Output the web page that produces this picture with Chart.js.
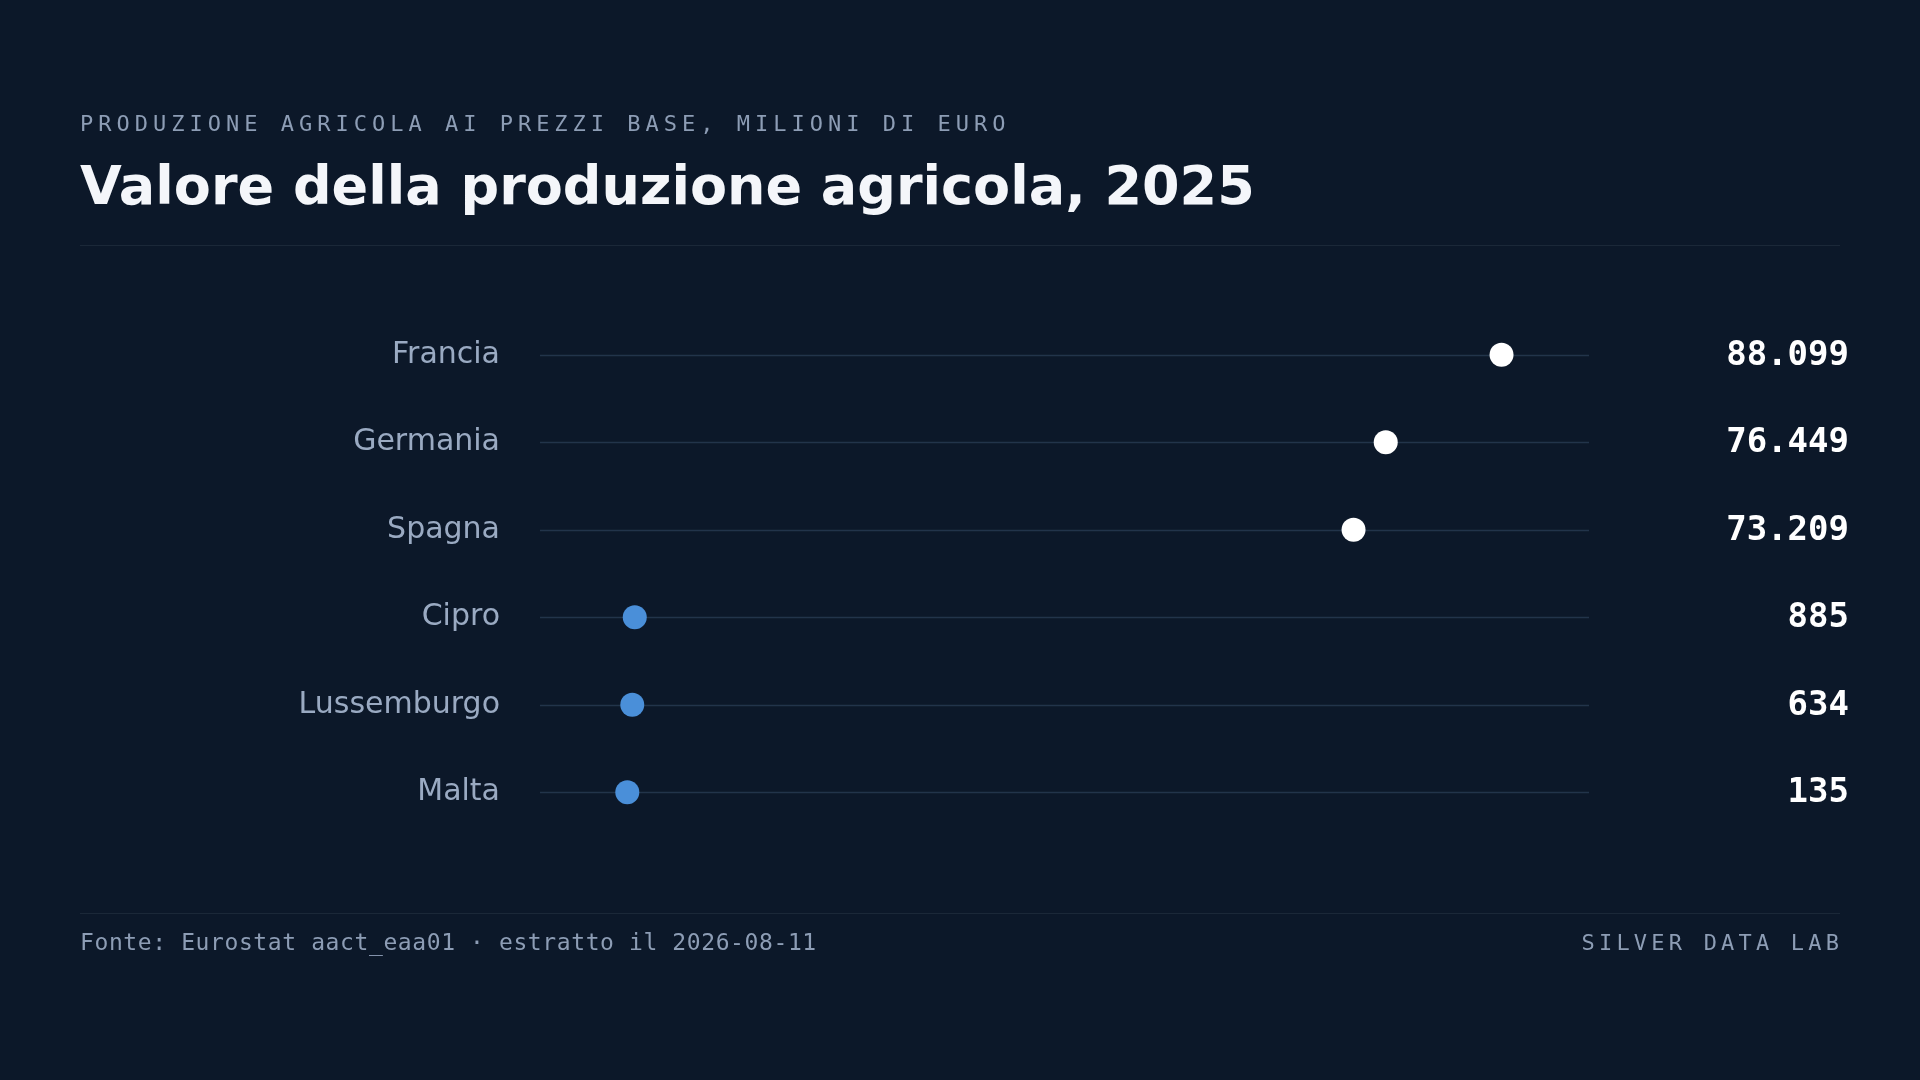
<!DOCTYPE html>
<html>
<head>
<meta charset="utf-8">
<script src="https://cdn.jsdelivr.net/npm/chart.js@4"></script>
<style>
  html, body { margin: 0; padding: 0; background: #0c1829; }
  #wrap { width: 1920px; height: 1080px; position: relative; }
</style>
</head>
<body>
<div id="wrap"><canvas id="dots" width="1920" height="1080"></canvas></div>
<script>
var countries = ['Francia', 'Germania', 'Spagna', 'Cipro', 'Lussemburgo', 'Malta'];
var values    = [88099, 76449, 73209, 885, 634, 135];
var valueText = ['88.099', '76.449', '73.209', '885', '634', '135'];
var dotColors = ['#ffffff', '#ffffff', '#ffffff', '#4a8fd9', '#4a8fd9', '#4a8fd9'];

var BG    = '#0c1829';
var MUTED = '#8d9db5';
var MONO  = '"DejaVu Sans Mono", monospace';
var SANS  = '"DejaVu Sans", sans-serif';

function spaced(c, text, x, y, spacing, alignRight) {
  if (alignRight) {
    var w = 0;
    for (var i = 0; i < text.length; i++) w += c.measureText(text[i]).width + spacing;
    x -= w - spacing;
  }
  for (var j = 0; j < text.length; j++) {
    c.fillText(text[j], x, y);
    x += c.measureText(text[j]).width + spacing;
  }
}

var decor = {
  id: 'decor',
  beforeDraw: function (chart) {
    var c = chart.ctx;
    c.save();
    c.fillStyle = BG;
    c.fillRect(0, 0, chart.width, chart.height);

    c.textBaseline = 'middle';
    c.textAlign = 'left';
    c.fillStyle = MUTED;
    c.font = '22px ' + MONO;
    spaced(c, 'PRODUZIONE AGRICOLA AI PREZZI BASE, MILIONI DI EURO', 80, 125, 5, false);

    c.fillStyle = '#f4f6fa';
    c.font = 'bold 54px ' + SANS;
    c.fillText('Valore della produzione agricola, 2025', 80, 190);

    c.strokeStyle = '#1b2838';
    c.lineWidth = 1;
    c.beginPath(); c.moveTo(80, 245.5); c.lineTo(1840, 245.5); c.stroke();
    c.beginPath(); c.moveTo(80, 913.5); c.lineTo(1840, 913.5); c.stroke();

    c.fillStyle = MUTED;
    c.font = '23px ' + MONO;
    spaced(c, 'Fonte: Eurostat aact_eaa01 · estratto il 2026-08-11', 80, 944, 0.6, false);
    c.font = '22px ' + MONO;
    spaced(c, 'SILVER DATA LAB', 1839, 944, 4.2, true);

    // tracks, labels and values
    var area = chart.chartArea;
    var ys = chart.scales.y;
    countries.forEach(function (name, i) {
      var y = Math.round(ys.getPixelForValue(i)) + 0.5;
      c.strokeStyle = '#22344a';
      c.lineWidth = 1.3;
      c.beginPath(); c.moveTo(area.left, y); c.lineTo(area.right, y); c.stroke();

      c.textAlign = 'right';
      c.fillStyle = '#9aaac2';
      c.font = '30px ' + SANS;
      c.fillText(name, 500, y);

      c.fillStyle = '#ffffff';
      c.font = 'bold 34px ' + MONO;
      c.fillText(valueText[i], 1849, y + 1);
    });
    c.restore();
  }
};

new Chart(document.getElementById('dots'), {
  type: 'scatter',
  plugins: [decor],
  data: {
    datasets: [{
      data: values.map(function (v, i) { return { x: v, y: i }; }),
      pointRadius: 12,
      pointHoverRadius: 12,
      pointBackgroundColor: dotColors,
      pointBorderWidth: 0
    }]
  },
  options: {
    responsive: false,
    animation: false,
    layout: { padding: { left: 540, right: 331, top: 311, bottom: 244 } },
    plugins: { legend: { display: false }, tooltip: { enabled: false } },
    scales: {
      x: { display: false, min: -8650, max: 96900 },
      y: { display: false, min: -0.5, max: 5.5, reverse: true }
    }
  }
});
</script>
</body>
</html>
